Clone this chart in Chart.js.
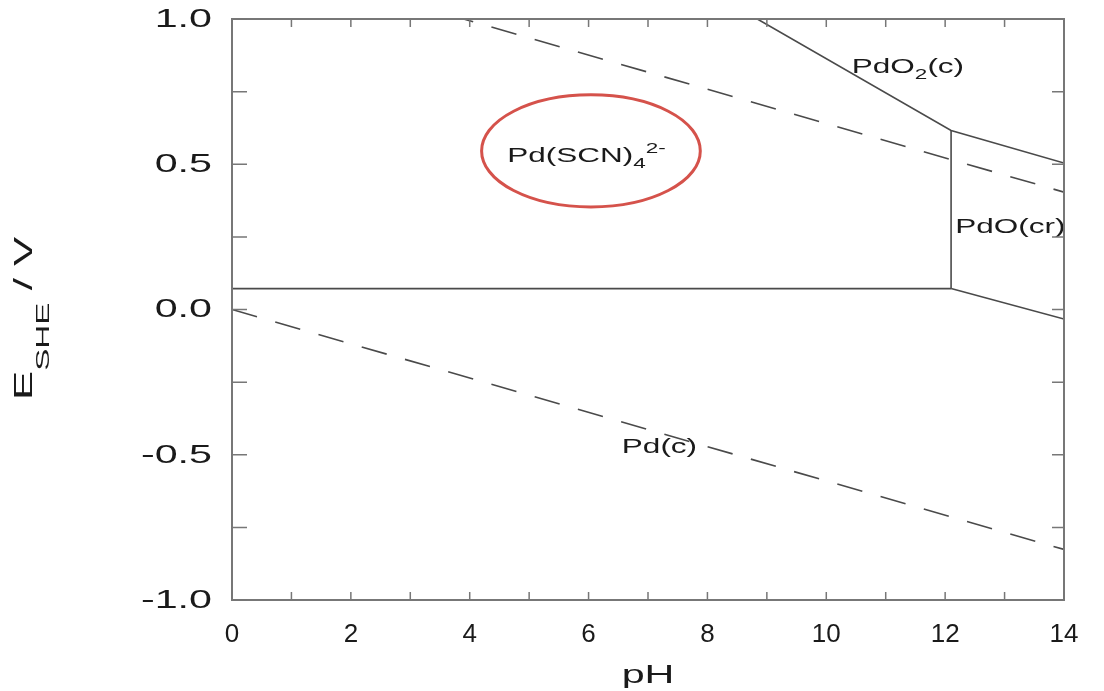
<!DOCTYPE html>
<html>
<head>
<meta charset="utf-8">
<script src="https://cdn.jsdelivr.net/npm/chart.js@4.4.1/dist/chart.umd.min.js"></script>
<style>
  body { margin: 0; background: #fff; }
  canvas { display: block; }
</style>
</head>
<body>
<canvas id="PourbaixChart" width="1104" height="691"></canvas>
<script>
// --- data (pH, E in volts) ---
var waterUpperPH = [0, 14];
var waterUpperE = [1.23, 0.404];
var waterLowerPH = [0, 14];
var waterLowerE = [0, -0.826];
var scnBottomPH = [0, 12.1];
var scnBottomE = [0.072, 0.072];
var pdoLeftPH = [12.1, 12.1];
var pdoLeftE = [0.072, 0.616];
var pdo2EdgePH = [8.84, 12.1, 14];
var pdo2EdgeE = [1.0, 0.616, 0.504];
var pdoBottomPH = [12.1, 14];
var pdoBottomE = [0.072, -0.033];

var yTickLabels = [1.0, 0.5, 0.0, -0.5, -1.0];

// region labels: text parts, anchored at left/baseline in data coords
var regionLabels = [
  { ph: 10.43, e: 0.815, parts: [['PdO', 21, 0], ['2', 15, 6], ['(c)', 21, 0]] },
  { ph: 4.63, e: 0.508, parts: [['Pd(SCN)', 21, 0], ['4', 15, 6], ['2-', 15, -9]] },
  { ph: 12.17, e: 0.263, parts: [['PdO(cr)', 21, 0]] },
  { ph: 6.56, e: -0.494, parts: [['Pd(c)', 21, 0]] }
];

var FONT = '"Liberation Sans", Arial, sans-serif';
var LINE = '#4a4a4a';
var AXIS = '#777';
var TEXT = '#1a1a1a';

function pts(xs, ys) {
  return xs.map(function (x, i) { return { x: x, y: ys[i] }; });
}

function lineSet(xs, ys, dashed) {
  return {
    data: pts(xs, ys),
    showLine: true,
    borderColor: LINE,
    borderWidth: 1.6,
    borderDash: dashed ? [26, 19] : [],
    pointRadius: 0,
    fill: false
  };
}

// draw several text pieces one after another, stretched horizontally
function drawParts(ctx, parts, x, y, sx) {
  ctx.save();
  ctx.translate(x, y);
  ctx.scale(sx, 1);
  var off = 0;
  parts.forEach(function (p) {
    ctx.font = p[1] + 'px ' + FONT;
    ctx.fillText(p[0], off, p[2]);
    off += ctx.measureText(p[0]).width;
  });
  ctx.restore();
}

var framePlugin = {
  id: 'frame',
  afterDatasetsDraw: function (chart) {
    var ctx = chart.ctx;
    var a = chart.chartArea;
    var xs = chart.scales.x, ys = chart.scales.y;

    // red ellipse around the thiocyanate field
    var cx = xs.getPixelForValue(6.04), cy = ys.getPixelForValue(0.546);
    var rx = xs.getPixelForValue(6.04 + 1.84) - cx;
    var ry = cy - ys.getPixelForValue(0.546 + 0.193);
    ctx.save();
    ctx.strokeStyle = '#d5524b';
    ctx.lineWidth = 3;
    ctx.beginPath();
    ctx.ellipse(cx, cy, rx, ry, 0, 0, Math.PI * 2);
    ctx.stroke();
    ctx.restore();

    // region labels
    ctx.save();
    ctx.fillStyle = TEXT;
    ctx.textBaseline = 'alphabetic';
    ctx.textAlign = 'left';
    regionLabels.forEach(function (l) {
      drawParts(ctx, l.parts, xs.getPixelForValue(l.ph), ys.getPixelForValue(l.e), 1.5);
    });
    ctx.restore();

    // box + inside ticks
    ctx.save();
    ctx.strokeStyle = AXIS;
    ctx.lineWidth = 2;
    ctx.strokeRect(a.left, a.top, a.right - a.left, a.bottom - a.top);
    ctx.lineWidth = 1.5;
    ctx.beginPath();
    for (var v = 0; v <= 14; v++) {
      var px = xs.getPixelForValue(v);
      ctx.moveTo(px, a.bottom); ctx.lineTo(px, a.bottom - 8);
      ctx.moveTo(px, a.top); ctx.lineTo(px, a.top + 8);
    }
    for (var e = -1; e <= 1.001; e += 0.25) {
      var py = ys.getPixelForValue(e);
      ctx.moveTo(a.left, py); ctx.lineTo(a.left + 15, py);
      ctx.moveTo(a.right, py); ctx.lineTo(a.right - 12, py);
    }
    ctx.stroke();
    ctx.restore();

    // y tick labels (wide glyphs as in the original)
    ctx.save();
    ctx.fillStyle = TEXT;
    ctx.font = '25px ' + FONT;
    ctx.textBaseline = 'middle';
    yTickLabels.forEach(function (val) {
      var txt = val.toFixed(1);
      var w = ctx.measureText(txt).width * 1.65;
      drawParts(ctx, [[txt, 25, 0]], a.left - 20 - w, ys.getPixelForValue(val) + 1, 1.65);
    });
    ctx.restore();

    // axis titles
    ctx.save();
    ctx.fillStyle = TEXT;
    ctx.textBaseline = 'alphabetic';
    ctx.font = '25px ' + FONT;
    var tw = ctx.measureText('pH').width * 1.65;
    drawParts(ctx, [['pH', 25, 0]], (a.left + a.right) / 2 - tw / 2, 683, 1.65);

    ctx.translate(32, 400);
    ctx.rotate(-Math.PI / 2);
    drawParts(ctx, [['E', 25, 0], ['SHE', 19, 17], [' / V', 25, 0]], 0, 0, 1.75);
    ctx.restore();
  }
};

new Chart('PourbaixChart', {
  type: 'scatter',
  data: {
    datasets: [
      lineSet(waterUpperPH, waterUpperE, true),
      lineSet(waterLowerPH, waterLowerE, true),
      lineSet(scnBottomPH, scnBottomE, false),
      lineSet(pdoLeftPH, pdoLeftE, false),
      lineSet(pdo2EdgePH, pdo2EdgeE, false),
      lineSet(pdoBottomPH, pdoBottomE, false)
    ]
  },
  options: {
    responsive: false,
    animation: false,
    layout: { padding: { left: 0, right: 40, top: 19, bottom: 0 } },
    plugins: { legend: { display: false }, tooltip: { enabled: false } },
    scales: {
      x: {
        type: 'linear', min: 0, max: 14,
        grid: { display: false, drawTicks: false },
        border: { display: false },
        ticks: {
          stepSize: 1,
          padding: 19,
          color: TEXT,
          font: { family: FONT, size: 26 },
          maxRotation: 0,
          autoSkip: false,
          callback: function (v) { return v % 2 === 0 ? String(v) : ''; }
        },
        afterFit: function (scale) { scale.height = 91; }
      },
      y: {
        type: 'linear', min: -1, max: 1,
        grid: { display: false, drawTicks: false },
        border: { display: false },
        ticks: { display: false, stepSize: 0.25 },
        afterFit: function (scale) { scale.width = 232; }
      }
    }
  },
  plugins: [framePlugin]
});
</script>
</body>
</html>
